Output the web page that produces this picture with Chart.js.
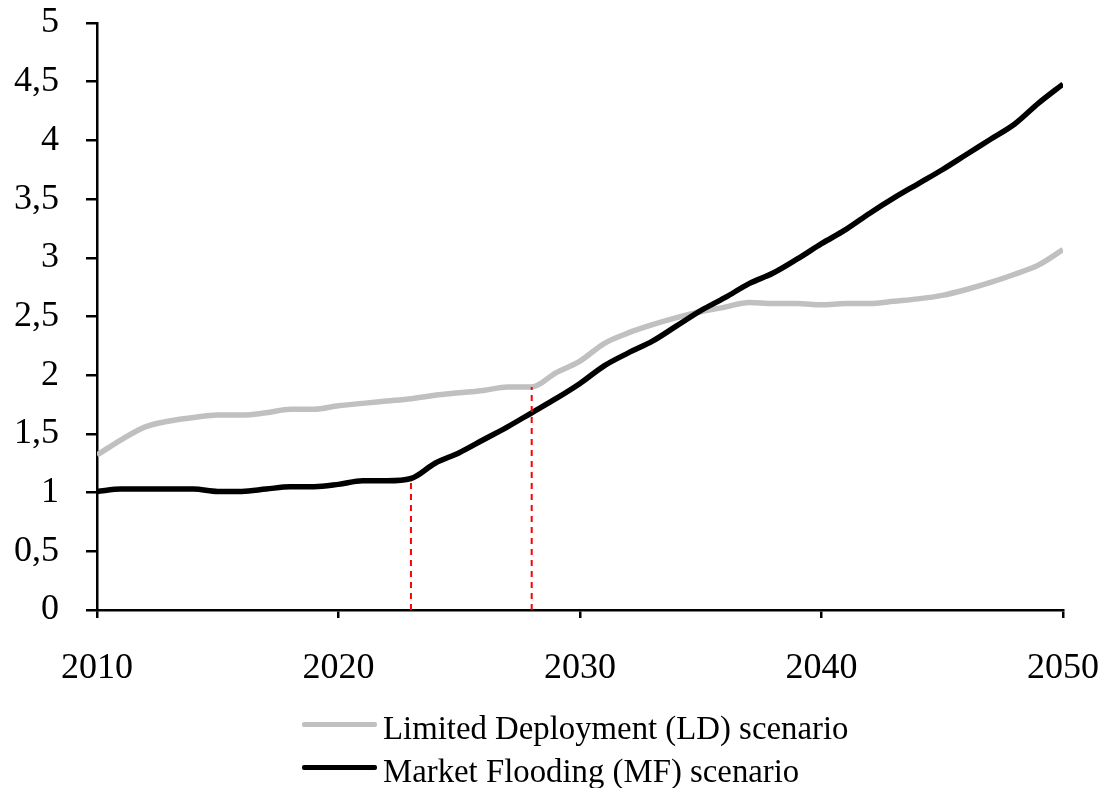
<!DOCTYPE html>
<html>
<head>
<meta charset="utf-8">
<script src="https://cdn.jsdelivr.net/npm/chart.js@4.4.1/dist/chart.umd.min.js"></script>
<style>
  html, body { margin: 0; padding: 0; background: #fff; }
  #wrap { position: relative; width: 1106px; height: 788px; }
  #c { position: absolute; left: 0; top: 0; }
  #legend { position: absolute; left: 302px; top: 707px; font-family: "Liberation Serif", "Times New Roman", serif; font-size: 32.8px; color: #000; }
  .row { position: relative; height: 43px; line-height: 43px; white-space: nowrap; }
  .swatch { position: absolute; left: 0; top: 15px; width: 75px; height: 5px; border-radius: 2px; }
  .label { position: absolute; left: 81px; top: 0; }
</style>
</head>
<body>
<div id="wrap">
  <canvas id="c" width="1106" height="788"></canvas>
  <div id="legend"></div>
</div>
<script>
// ---- data ----
const years = [2010,2011,2012,2013,2014,2015,2016,2017,2018,2019,
               2020,2021,2022,2023,2024,2025,2026,2027,2028,2029,
               2030,2031,2032,2033,2034,2035,2036,2037,2038,2039,
               2040,2041,2042,2043,2044,2045,2046,2047,2048,2049,2050];
const ldValues = [1.32,1.45,1.56,1.61,1.64,1.66,1.66,1.68,1.71,1.71,
                  1.74,1.76,1.78,1.80,1.83,1.85,1.87,1.90,1.90,2.02,
                  2.12,2.27,2.36,2.43,2.49,2.54,2.58,2.62,2.61,2.61,
                  2.60,2.61,2.61,2.63,2.65,2.68,2.73,2.79,2.86,2.94,3.07];
const mfValues = [1.01,1.03,1.03,1.03,1.03,1.01,1.01,1.03,1.05,1.05,
                  1.07,1.10,1.10,1.12,1.25,1.34,1.45,1.56,1.68,1.80,
                  1.93,2.08,2.19,2.29,2.42,2.55,2.66,2.78,2.87,2.99,
                  3.12,3.24,3.38,3.51,3.63,3.75,3.88,4.01,4.14,4.32,4.48];
const seriesNames = ["Limited Deployment (LD) scenario", "Market Flooding (MF) scenario"];
const markerYears = [2023, 2028];
const xTickLabels = ["2010","2020","2030","2040","2050"];
const yTickLabels = ["0","0,5","1","1,5","2","2,5","3","3,5","4","4,5","5"];

// ---- build ----
const toPoints = vals => years.map((y, i) => ({ x: y, y: vals[i] }));
const mfAt = yr => mfValues[years.indexOf(yr)];
const ldAt = yr => ldValues[years.indexOf(yr)];
const markerTops = [mfAt(markerYears[0]), ldAt(markerYears[1])];

const FONT = "'Liberation Serif', 'Times New Roman', serif";

const datasets = [
  { label: "marker1", data: [{x: markerYears[0], y: 0}, {x: markerYears[0], y: markerTops[0]}],
    borderColor: "#ff0000", borderWidth: 2, borderDash: [6, 5], pointRadius: 0, order: 0 },
  { label: "marker2", data: [{x: markerYears[1], y: 0}, {x: markerYears[1], y: markerTops[1]}],
    borderColor: "#ff0000", borderWidth: 2, borderDash: [6, 5], pointRadius: 0, order: 0 },
  { label: seriesNames[1], data: toPoints(mfValues), borderColor: "#000000", borderWidth: 5.5,
    pointRadius: 0, cubicInterpolationMode: "monotone", order: 1 },
  { label: seriesNames[0], data: toPoints(ldValues), borderColor: "#c0c0c0", borderWidth: 5.5,
    pointRadius: 0, cubicInterpolationMode: "monotone", order: 2 }
];

const noPad = s => { s.paddingTop = 0; s.paddingBottom = 0; s.paddingLeft = 0; s.paddingRight = 0; };

const chart = new Chart(document.getElementById("c"), {
  type: "line",
  data: { datasets },
  options: {
    responsive: false,
    animation: false,
    layout: { padding: { left: 0, right: 43, top: 23, bottom: 0 } },
    plugins: { legend: { display: false }, tooltip: { enabled: false } },
    scales: {
      x: {
        type: "linear", min: 2010, max: 2050,
        afterFit: s => { s.height = 178; noPad(s); },
        grid: { display: true, drawOnChartArea: false, drawTicks: true, tickLength: 8, color: "#000", lineWidth: 2.5 },
        border: { display: true, color: "#000", width: 2.5 },
        ticks: { stepSize: 10, color: "#000", padding: 29, maxRotation: 0,
                 font: { family: FONT, size: 36 },
                 callback: (v) => xTickLabels[Math.round((v - 2010) / 10)] }
      },
      y: {
        min: 0, max: 5,
        afterFit: s => { s.width = 97; noPad(s); },
        grid: { display: true, drawOnChartArea: false, drawTicks: true, tickLength: 11, color: "#000", lineWidth: 2.5 },
        border: { display: true, color: "#000", width: 2.5 },
        ticks: { stepSize: 0.5, color: "#000", padding: 27,
                 font: { family: FONT, size: 36 },
                 callback: (v) => yTickLabels[Math.round(v * 2)] }
      }
    }
  }
});

// ---- html legend from chart datasets ----
const legendEl = document.getElementById("legend");
[3, 2].forEach(idx => {
  const ds = chart.data.datasets[idx];
  const row = document.createElement("div");
  row.className = "row";
  const sw = document.createElement("span");
  sw.className = "swatch";
  sw.style.background = ds.borderColor;
  const lb = document.createElement("span");
  lb.className = "label";
  lb.textContent = ds.label;
  row.appendChild(sw); row.appendChild(lb);
  legendEl.appendChild(row);
});
</script>
</body>
</html>
